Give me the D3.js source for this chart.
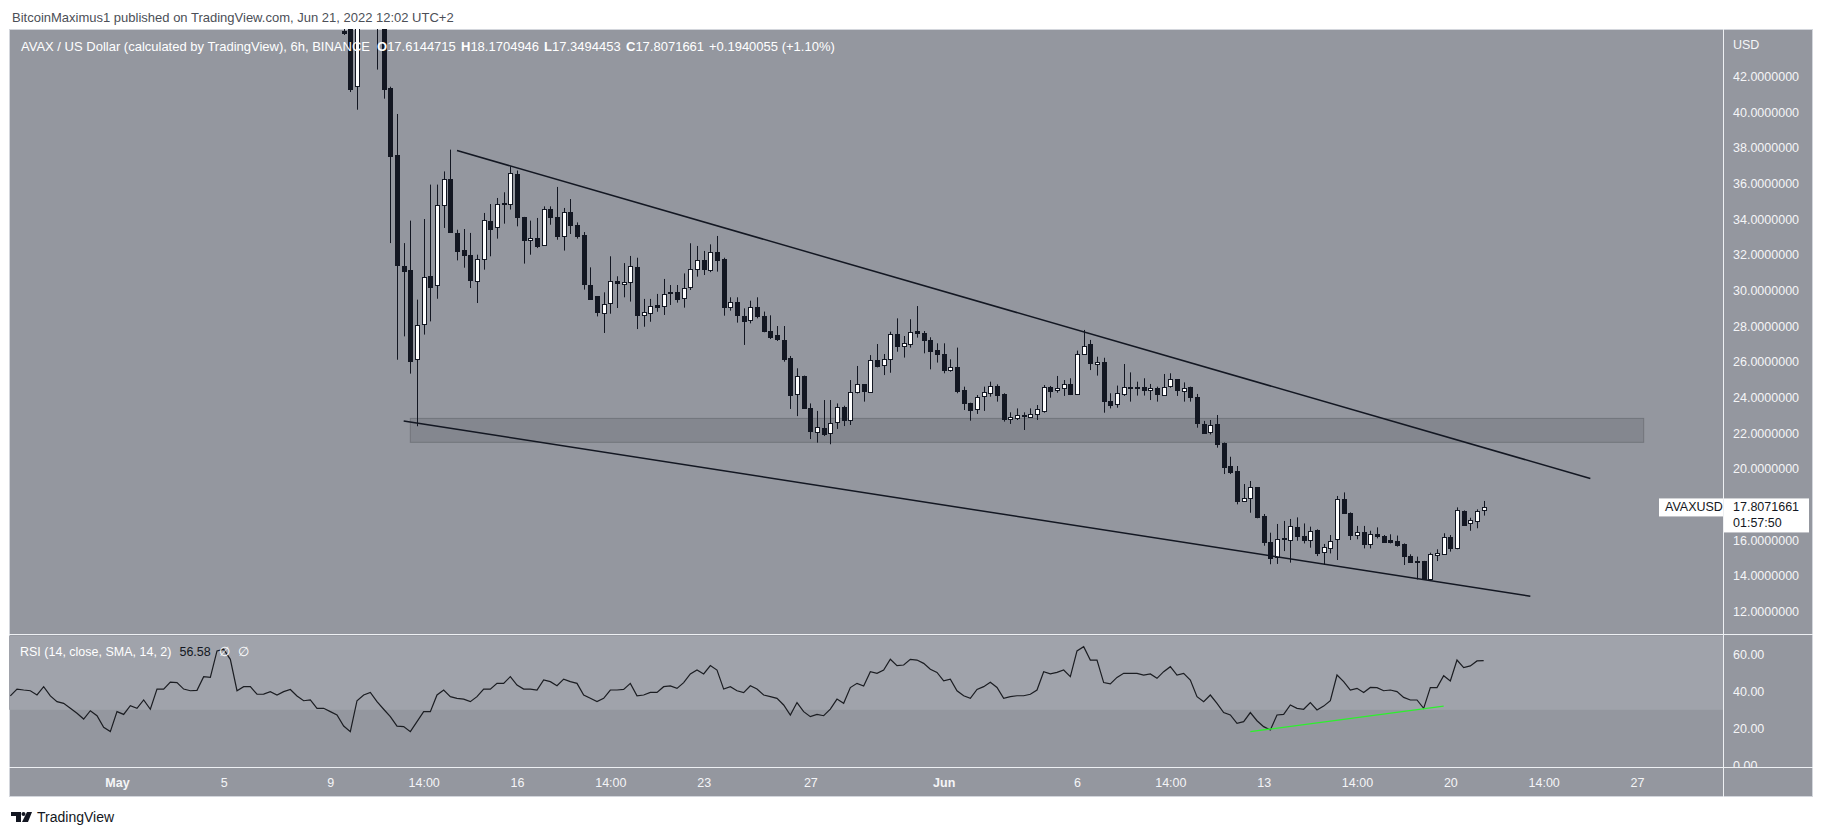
<!DOCTYPE html>
<html lang="en">
  <head>
    <meta charset="utf-8" />
    <title>AVAX / US Dollar, 6h</title>
    <style>
      body {
        margin: 0;
        background: #ffffff;
      }
      svg text {
        font-family: "Trebuchet MS", "Liberation Sans", Roboto, sans-serif;
      }
    </style>
  </head>

  <body>
    <div id="chart"></div>

    <script src="https://cdn.jsdelivr.net/npm/d3@7"></script>
    <script>
      // ---- data (6h bars, chart time UTC+2) ----
      const barMs = 6 * 3600 * 1000;
      const candleStart = Date.UTC(2022, 4, 9, 14); // first candle that reaches the price pane
      const rsiStart = Date.UTC(2022, 3, 27, 2); // first RSI point at the left edge

      const opens = [
        44.55, 46.8, 41.42, 46.2, 47.4, 46.9, 45.2, 41.32, 37.59, 31.33,
        31.14, 26.09, 28.09, 30.8, 30.26, 34.79, 36.23, 33.2, 32.26, 31.94,
        30.49, 31.74, 33.89, 33.51, 34.88, 34.82, 36.52, 34.09, 32.78, 32.92,
        32.54, 34.54, 34.09, 33.01, 34.37, 33.66, 33.07, 30.3, 29.65, 28.75,
        29.27, 30.49, 30.34, 30.43, 31.31, 28.58, 28.75, 29.16, 29.1, 29.87,
        29.87, 29.53, 30.15, 31.16, 31.66, 31.16, 32.15, 31.72, 29.03, 29.31,
        28.56, 28.28, 29.03, 28.54, 27.7, 27.48, 27.2, 26.17, 24.2, 25.18,
        23.36, 22.0, 22.24, 21.96, 22.58, 23.42, 22.71, 24.26, 24.71, 24.3,
        26.07, 25.76, 26.11, 27.51, 26.82, 27.01, 27.7, 27.57, 27.2, 26.63,
        26.39, 25.48, 25.7, 24.39, 23.65, 23.36, 24.02, 24.24, 24.62, 24.17,
        22.75, 22.79, 22.97, 22.9, 23.03, 23.22, 24.54, 24.36, 24.49, 24.71,
        24.15, 26.45, 26.95, 25.83, 25.94, 23.77, 23.59, 24.17, 24.54, 24.54,
        24.54, 24.36, 24.49, 24.15, 24.58, 24.99, 24.36, 24.54, 23.98, 22.49,
        22.02, 22.49, 21.44, 20.13, 19.85, 18.19, 18.32, 18.94, 17.35, 15.85,
        15.01, 16.07, 15.98, 16.73, 16.23, 16.02, 16.54, 15.33, 15.57, 16.02,
        18.26, 17.48, 16.3, 16.41, 15.74, 16.3, 16.23, 15.98, 15.92, 15.76,
        15.1, 14.8, 14.8, 13.79, 15.14, 15.18, 16.17, 15.55, 17.63, 16.92,
        17.05, 17.6144715
      ];
      const highs = [
        45.5, 47.2, 47.0, 48.0, 48.6, 47.3, 45.6, 41.4, 39.87, 32.63,
        33.89, 29.46, 33.98, 35.91, 35.91, 36.65, 37.87, 33.38, 33.42, 33.2,
        31.98, 34.32, 34.82, 35.16, 35.48, 36.94, 36.7, 34.1, 33.89, 34.04,
        34.69, 34.69, 35.78, 34.6, 35.1, 33.79, 33.25, 31.27, 29.65, 29.87,
        31.89, 30.77, 31.51, 31.91, 31.81, 29.5, 29.5, 29.78, 30.62, 30.28,
        30.28, 30.93, 32.62, 32.47, 32.19, 32.56, 33.03, 31.81, 29.59, 29.59,
        28.97, 29.4, 29.59, 28.79, 28.58, 27.98, 27.98, 26.3, 25.61, 25.2,
        23.64, 23.22, 23.83, 23.83, 23.64, 23.51, 24.95, 25.74, 24.72, 26.35,
        26.97, 26.41, 27.66, 28.41, 27.42, 28.36, 29.1, 27.7, 27.35, 27.01,
        27.01, 26.11, 26.77, 24.58, 23.68, 24.11, 24.58, 24.86, 24.71, 24.21,
        23.14, 23.36, 23.14, 23.36, 23.55, 24.67, 24.62, 25.18, 24.95, 25.05,
        26.6, 27.76, 27.2, 26.26, 26.2, 24.21, 24.64, 25.85, 25.38, 24.86,
        25.05, 24.73, 24.58, 25.29, 25.33, 25.0, 24.82, 24.58, 24.17, 22.66,
        22.71, 22.99, 21.45, 20.65, 20.13, 19.12, 19.29, 18.95, 17.44, 16.39,
        16.88, 17.05, 17.16, 17.25, 16.91, 16.73, 16.58, 15.76, 16.26, 18.45,
        18.65, 17.53, 16.77, 16.77, 16.5, 16.69, 16.26, 16.3, 16.23, 15.79,
        15.18, 15.05, 14.81, 15.27, 15.46, 16.36, 16.26, 17.81, 17.64, 17.23,
        17.7, 18.1704946
      ];
      const lows = [
        44.3, 41.1, 40.11, 45.3, 45.8, 42.36, 40.73, 32.63, 26.09, 27.4,
        25.31, 22.36, 27.5, 28.24, 29.51, 33.48, 33.2, 31.66, 31.25, 30.11,
        29.27, 31.14, 31.89, 32.88, 33.72, 34.51, 33.57, 31.48, 31.98, 32.35,
        32.5, 33.66, 32.82, 32.21, 33.14, 32.88, 30.02, 29.5, 28.52, 27.59,
        28.67, 28.99, 29.59, 29.35, 27.81, 27.94, 28.22, 28.78, 28.6, 29.16,
        29.29, 29.01, 30.0, 30.75, 30.84, 31.0, 31.03, 28.56, 28.84, 28.17,
        26.92, 28.13, 28.41, 27.63, 27.25, 27.14, 25.98, 23.33, 22.93, 23.36,
        21.64, 21.44, 21.81, 21.35, 22.21, 22.37, 22.43, 24.2, 23.74, 24.28,
        25.66, 25.23, 25.36, 26.54, 26.21, 26.77, 27.33, 26.45, 25.55, 25.93,
        25.33, 25.42, 24.21, 23.27, 22.67, 23.05, 23.22, 24.02, 23.74, 22.62,
        22.49, 22.71, 22.15, 22.88, 22.71, 23.12, 23.96, 24.24, 24.06, 24.11,
        24.11, 26.4, 25.51, 25.2, 23.12, 23.36, 23.4, 24.06, 23.74, 24.08,
        24.08, 23.83, 23.74, 24.1, 24.52, 24.06, 23.74, 23.74, 22.28, 21.96,
        21.9, 21.16, 19.68, 19.68, 17.98, 18.17, 17.51, 17.2, 15.66, 14.62,
        14.64, 15.36, 14.71, 15.94, 15.79, 15.55, 15.08, 14.58, 15.23, 14.86,
        17.44, 15.98, 16.02, 15.51, 15.51, 16.07, 15.85, 15.79, 15.61, 14.58,
        14.71, 13.77, 13.77, 13.68, 14.8, 15.15, 15.33, 15.46, 16.82, 16.5,
        16.64, 17.3494453
      ];
      const closes = [
        44.41, 41.23, 46.2, 47.4, 46.9, 45.2, 41.29, 37.53, 31.42, 31.05,
        26.04, 28.02, 30.71, 30.21, 34.75, 36.23, 33.23, 32.17, 31.98, 30.52,
        31.74, 33.91, 33.44, 34.82, 34.82, 36.56, 34.13, 32.78, 32.92, 32.49,
        34.54, 34.09, 33.05, 34.37, 33.66, 33.07, 30.3, 29.51, 28.75, 29.23,
        30.49, 30.39, 30.43, 31.35, 28.64, 28.75, 29.12, 29.07, 29.76, 29.8,
        29.5, 30.09, 31.16, 31.66, 31.16, 32.15, 31.72, 29.03, 29.31, 28.56,
        28.28, 29.03, 28.5, 27.72, 27.38, 27.23, 26.13, 24.11, 25.2, 23.4,
        22.06, 22.3, 21.92, 22.52, 23.42, 22.71, 24.26, 24.71, 24.3, 26.07,
        25.76, 26.11, 27.51, 26.82, 27.01, 27.66, 27.57, 27.16, 26.6, 26.39,
        25.48, 25.66, 24.36, 23.65, 23.27, 24.02, 24.26, 24.62, 24.11, 22.75,
        22.86, 22.97, 22.92, 23.05, 23.31, 24.54, 24.3, 24.49, 24.71, 24.15,
        26.39, 26.88, 25.89, 25.94, 23.74, 23.55, 24.21, 24.54, 24.47, 24.47,
        24.36, 24.49, 24.15, 24.58, 24.99, 24.36, 24.52, 23.96, 22.52, 22.0,
        22.43, 21.35, 20.1, 19.81, 18.19, 18.36, 18.94, 17.23, 15.89, 14.95,
        16.02, 16.02, 16.79, 16.23, 16.02, 16.5, 15.27, 15.61, 15.94, 18.26,
        17.48, 16.23, 16.45, 15.74, 16.3, 16.2, 15.89, 15.89, 15.7, 15.1,
        14.77, 14.75, 13.79, 15.18, 15.23, 16.13, 15.55, 17.66, 16.86, 17.1,
        17.63, 17.8071661
      ];

      const rsiValues = [
        37.5, 41.2, 40.7, 40.3, 38.0, 42.5, 37.5, 34.4, 33.5, 30.8,
        28.1, 25.0, 29.5, 26.8, 20.5, 18.2, 29.0, 27.5, 32.2, 30.8,
        35.3, 30.3, 41.2, 41.2, 45.0, 44.7, 41.2, 40.3, 40.5, 47.9,
        47.5, 61.8, 62.7, 57.3, 40.3, 42.5, 42.5, 38.4, 38.5, 39.8,
        38.0, 39.8, 41.0, 37.5, 34.9, 35.3, 30.8, 30.8, 29.0, 27.2,
        21.2, 18.2, 34.9, 38.0, 39.4, 34.4, 30.3, 26.3, 21.2, 20.9,
        18.2, 23.6, 29.0, 29.0, 38.0, 40.7, 37.1, 36.2, 35.8, 34.4,
        37.1, 41.2, 41.2, 44.3, 44.3, 47.9, 43.4, 41.2, 41.2, 40.7,
        46.1, 45.2, 43.0, 46.6, 45.2, 44.3, 38.0, 36.2, 34.4, 36.2,
        40.7, 40.7, 41.0, 44.3, 37.6, 38.0, 39.4, 39.4, 42.5, 42.9,
        41.6, 44.7, 49.4, 51.5, 49.4, 53.9, 51.5, 41.2, 42.5, 40.3,
        39.3, 43.0, 41.2, 38.0, 37.1, 36.2, 32.6, 27.2, 33.9, 29.0,
        26.3, 27.5, 26.8, 30.4, 35.8, 33.5, 42.0, 44.3, 42.9, 50.6,
        49.7, 51.5, 57.3, 53.9, 54.2, 57.3, 56.9, 55.1, 51.9, 50.2,
        45.7, 46.6, 40.3, 37.6, 36.2, 41.0, 42.5, 44.9, 42.1, 36.2,
        37.1, 37.6, 37.6, 38.4, 40.7, 50.6, 49.4, 50.2, 51.5, 47.9,
        61.8, 64.1, 56.9, 56.9, 44.7, 44.0, 47.5, 49.7, 49.7, 49.7,
        48.8, 49.4, 47.0, 50.6, 53.3, 48.8, 49.7, 46.1, 37.1, 34.4,
        38.0, 33.5, 28.5, 27.2, 22.7, 23.6, 28.5, 24.1, 20.9, 19.1,
        27.2, 27.5, 32.6, 30.8, 30.3, 33.9, 29.9, 32.0, 34.9, 48.8,
        45.2, 40.7, 41.6, 39.3, 42.1, 42.0, 40.3, 40.7, 39.8, 36.7,
        35.3, 35.3, 30.8, 42.0, 42.0, 48.4, 45.6, 56.9, 52.8, 53.7,
        56.4, 56.58
      ];

      // drawings on the chart
      const upperTrend = [
        { t: Date.UTC(2022, 4, 13, 20), p: 37.82 },
        { t: Date.UTC(2022, 5, 25, 8), p: 19.43 }
      ];
      const lowerTrend = [
        { t: Date.UTC(2022, 4, 11, 20), p: 22.65 },
        { t: Date.UTC(2022, 5, 23, 2), p: 12.83 }
      ];
      const zoneTimes = [Date.UTC(2022, 4, 12, 2), Date.UTC(2022, 5, 27, 8)];
      const zonePrices = [21.46, 22.8];
      const rsiDivergence = [
        { t: Date.UTC(2022, 5, 12, 14), v: 18.2 },
        { t: Date.UTC(2022, 5, 19, 20), v: 32.0 }
      ];

      // axes
      const priceTicks = [12, 14, 16, 18, 20, 22, 24, 26, 28, 30, 32, 34, 36, 38, 40, 42];
      const rsiTicks = [0, 20, 40, 60];
      const timeTicks = [
        Date.UTC(2022, 4, 1, 2), Date.UTC(2022, 4, 5, 2), Date.UTC(2022, 4, 9, 2),
        Date.UTC(2022, 4, 12, 14), Date.UTC(2022, 4, 16, 2), Date.UTC(2022, 4, 19, 14),
        Date.UTC(2022, 4, 23, 2), Date.UTC(2022, 4, 27, 2), Date.UTC(2022, 5, 1, 2),
        Date.UTC(2022, 5, 6, 2), Date.UTC(2022, 5, 9, 14), Date.UTC(2022, 5, 13, 2),
        Date.UTC(2022, 5, 16, 14), Date.UTC(2022, 5, 20, 2), Date.UTC(2022, 5, 23, 14),
        Date.UTC(2022, 5, 27, 2)
      ];
      const timeTickLabels = [
        "May", "5", "9", "14:00", "16", "14:00", "23", "27", "Jun",
        "6", "14:00", "13", "14:00", "20", "14:00", "27"
      ];

      const lastPrice = closes[closes.length - 1];
      const countdown = "01:57:50";

      // ---- layout ----
      const width = 1824, height = 836;
      const frameLeft = 9, plotRight = 1723, frameRight = 1813;
      const frameTop = 29, priceBottom = 634, rsiBottom = 767, frameBottom = 797;

      const bg = "#94979f";
      const ink = "#131722";
      const axisText = "#f4f5f7";
      const sepColor = "#eef0f3";

      const x = d3.scaleUtc()
        .domain([Date.UTC(2022, 4, 1, 2), Date.UTC(2022, 5, 27, 2)])
        .range([117, 1637]);
      const y = d3.scaleLinear().domain([12, 42]).range([611, 76]);
      const yRsi = d3.scaleLinear().domain([0, 60]).range([765.3, 654.3]);

      const candles = opens.map((o, i) => ({
        t: candleStart + i * barMs,
        o: o,
        h: highs[i],
        l: lows[i],
        c: closes[i]
      }));
      const rsi = rsiValues.map((v, i) => ({ t: rsiStart + i * barMs, v: v }));

      const svg = d3.select("#chart")
        .append("svg")
        .attr("width", width)
        .attr("height", height)
        .style("display", "block");

      const defs = svg.append("defs");
      defs.append("clipPath").attr("id", "clip-price")
        .append("rect")
        .attr("x", frameLeft).attr("y", frameTop)
        .attr("width", plotRight - frameLeft).attr("height", priceBottom - frameTop);
      defs.append("clipPath").attr("id", "clip-rsi")
        .append("rect")
        .attr("x", frameLeft).attr("y", priceBottom)
        .attr("width", plotRight - frameLeft).attr("height", rsiBottom - priceBottom);
      defs.append("clipPath").attr("id", "clip-rsi-axis")
        .append("rect")
        .attr("x", plotRight).attr("y", priceBottom)
        .attr("width", frameRight - plotRight).attr("height", rsiBottom - priceBottom);

      // publisher line above the chart
      svg.append("text")
        .attr("x", 12)
        .attr("y", 17)
        .attr("dominant-baseline", "central")
        .attr("fill", "#4c4f57")
        .style("font-size", "13px")
        .text("BitcoinMaximus1 published on TradingView.com, Jun 21, 2022 12:02 UTC+2");

      // chart frame
      svg.append("rect")
        .attr("x", frameLeft + 0.5)
        .attr("y", frameTop + 0.5)
        .attr("width", frameRight - frameLeft - 1)
        .attr("height", frameBottom - frameTop - 1)
        .attr("fill", bg)
        .attr("stroke", "#d3d6dc");

      // RSI 30-70 band
      svg.append("rect")
        .attr("clip-path", "url(#clip-rsi)")
        .attr("x", frameLeft)
        .attr("y", yRsi(70))
        .attr("width", plotRight - frameLeft)
        .attr("height", yRsi(30) - yRsi(70))
        .attr("fill", "#a0a3ab");

      // support zone
      svg.append("rect")
        .attr("clip-path", "url(#clip-price)")
        .attr("x", x(zoneTimes[0]))
        .attr("y", y(zonePrices[1]))
        .attr("width", x(zoneTimes[1]) - x(zoneTimes[0]))
        .attr("height", y(zonePrices[0]) - y(zonePrices[1]))
        .attr("fill", "#84878f")
        .attr("stroke", "#72757c");

      // candles
      const candleG = svg.append("g").attr("clip-path", "url(#clip-price)");
      const cx = (d) => Math.round(x(d.t)) + 0.5;

      candleG.selectAll("line.wick")
        .data(candles)
        .enter()
        .append("line")
        .attr("class", "wick")
        .attr("x1", cx)
        .attr("x2", cx)
        .attr("y1", (d) => y(d.h))
        .attr("y2", (d) => y(d.l))
        .attr("stroke", ink)
        .attr("stroke-width", 1);

      candleG.selectAll("rect.body")
        .data(candles)
        .enter()
        .append("rect")
        .attr("class", "body")
        .attr("x", (d) => cx(d) - 2)
        .attr("y", (d) => Math.round(y(Math.max(d.o, d.c))) + 0.5)
        .attr("width", 4)
        .attr("height", (d) => Math.max(1, Math.round(Math.abs(y(d.o) - y(d.c)))))
        .attr("fill", (d) => (d.c >= d.o ? "#ffffff" : ink))
        .attr("stroke", ink)
        .attr("stroke-width", 1);

      // trend lines of the wedge
      const trendLine = d3.line().x((d) => x(d.t)).y((d) => y(d.p));
      [upperTrend, lowerTrend].forEach((pts) => {
        svg.append("path")
          .attr("clip-path", "url(#clip-price)")
          .attr("d", trendLine(pts))
          .attr("fill", "none")
          .attr("stroke", ink)
          .attr("stroke-width", 1.5);
      });

      // RSI line
      svg.append("path")
        .attr("clip-path", "url(#clip-rsi)")
        .attr("d", d3.line().x((d) => x(d.t)).y((d) => yRsi(d.v))(rsi))
        .attr("fill", "none")
        .attr("stroke", "#1b1d22")
        .attr("stroke-width", 1.2);

      // bullish divergence line
      svg.append("path")
        .attr("clip-path", "url(#clip-rsi)")
        .attr("d", d3.line().x((d) => x(d.t)).y((d) => yRsi(d.v))(rsiDivergence))
        .attr("fill", "none")
        .attr("stroke", "#2df02d")
        .attr("stroke-width", 1.3);

      // pane separators
      [priceBottom, rsiBottom].forEach((yy) => {
        svg.append("line")
          .attr("x1", frameLeft).attr("x2", frameRight)
          .attr("y1", yy + 0.5).attr("y2", yy + 0.5)
          .attr("stroke", sepColor);
      });
      svg.append("line")
        .attr("x1", plotRight + 0.5).attr("x2", plotRight + 0.5)
        .attr("y1", frameTop).attr("y2", frameBottom)
        .attr("stroke", sepColor);

      // price axis
      const priceAxis = svg.append("g")
        .attr("transform", `translate(${plotRight},0)`)
        .call(d3.axisRight(y).tickValues(priceTicks).tickSize(0).tickPadding(10)
          .tickFormat((d) => d.toFixed(7)));
      priceAxis.select(".domain").remove();
      priceAxis.selectAll("text")
        .attr("fill", axisText)
        .attr("dy", "0.35em")
        .style("font-size", "12.5px");

      svg.append("text")
        .attr("x", plotRight + 10)
        .attr("y", 45)
        .attr("dominant-baseline", "central")
        .attr("fill", axisText)
        .style("font-size", "12.5px")
        .text("USD");

      // RSI axis (clipped to the RSI pane, so 0.00 is cut like in the app)
      const rsiAxis = svg.append("g")
        .attr("clip-path", "url(#clip-rsi-axis)")
        .append("g")
        .attr("transform", `translate(${plotRight},0)`)
        .call(d3.axisRight(yRsi).tickValues(rsiTicks).tickSize(0).tickPadding(10)
          .tickFormat(d3.format(".2f")));
      rsiAxis.select(".domain").remove();
      rsiAxis.selectAll("text")
        .attr("fill", axisText)
        .attr("dy", "0.35em")
        .style("font-size", "12.5px");

      // time axis
      const timeAxis = svg.append("g")
        .attr("transform", `translate(0,${rsiBottom})`)
        .call(d3.axisBottom(x).tickValues(timeTicks).tickSize(0)
          .tickFormat((d, i) => timeTickLabels[i]));
      timeAxis.select(".domain").remove();
      timeAxis.selectAll("text")
        .attr("y", 16)
        .attr("dy", "0.35em")
        .attr("fill", axisText)
        .style("font-size", "12.5px")
        .style("font-weight", (d, i) => (timeTickLabels[i] === "May" || timeTickLabels[i] === "Jun" ? "bold" : "normal"));

      // legend line of the main series
      svg.append("text")
        .attr("x", 21)
        .attr("y", 46)
        .attr("dominant-baseline", "central")
        .attr("fill", "#ffffff")
        .style("font-size", "13px")
        .text("AVAX / US Dollar (calculated by TradingView), 6h, BINANCE");

      const ohlc = [
        { k: "O", v: opens[opens.length - 1].toFixed(7), x: 377 },
        { k: "H", v: highs[highs.length - 1].toFixed(7), x: 461 },
        { k: "L", v: lows[lows.length - 1].toFixed(7), x: 544 },
        { k: "C", v: lastPrice.toFixed(7), x: 626 }
      ];
      const ohlcText = svg.selectAll("text.ohlc")
        .data(ohlc)
        .enter()
        .append("text")
        .attr("class", "ohlc")
        .attr("x", (d) => d.x)
        .attr("y", 46)
        .attr("dominant-baseline", "central")
        .attr("fill", "#ffffff")
        .style("font-size", "13px");
      ohlcText.append("tspan").style("font-weight", "bold").text((d) => d.k);
      ohlcText.append("tspan").text((d) => d.v);

      svg.append("text")
        .attr("x", 709)
        .attr("y", 46)
        .attr("dominant-baseline", "central")
        .attr("fill", "#ffffff")
        .style("font-size", "13px")
        .text("+0.1940055 (+1.10%)");

      // RSI legend
      const rsiLegend = svg.append("text")
        .attr("x", 20)
        .attr("y", 652)
        .attr("dominant-baseline", "central")
        .style("font-size", "12.5px");
      rsiLegend.append("tspan").attr("fill", "#ffffff").text("RSI (14, close, SMA, 14, 2)");
      rsiLegend.append("tspan").attr("fill", ink).attr("dx", 8)
        .text(rsiValues[rsiValues.length - 1].toFixed(2));
      rsiLegend.append("tspan").attr("fill", "#ffffff").attr("dx", 8).text("∅");
      rsiLegend.append("tspan").attr("fill", "#ffffff").attr("dx", 8).text("∅");

      // last price labels
      const yLast = y(lastPrice);
      svg.append("rect")
        .attr("x", 1659).attr("y", yLast - 9)
        .attr("width", plotRight - 1659).attr("height", 18)
        .attr("fill", "#ffffff");
      svg.append("text")
        .attr("x", 1665).attr("y", yLast)
        .attr("dominant-baseline", "central")
        .attr("fill", ink)
        .style("font-size", "12.5px")
        .text("AVAXUSD");
      svg.append("rect")
        .attr("x", plotRight + 1).attr("y", yLast - 9)
        .attr("width", 85).attr("height", 34)
        .attr("fill", "#ffffff");
      svg.append("text")
        .attr("x", plotRight + 10).attr("y", yLast)
        .attr("dominant-baseline", "central")
        .attr("fill", ink)
        .style("font-size", "12.5px")
        .text(lastPrice.toFixed(7));
      svg.append("text")
        .attr("x", plotRight + 10).attr("y", yLast + 16)
        .attr("dominant-baseline", "central")
        .attr("fill", ink)
        .style("font-size", "12.5px")
        .text(countdown);

      // TradingView logo at the bottom
      const logo = svg.append("g").attr("fill", ink);
      logo.append("path").attr("d", "M11,812 H21 V822 H16 V816 H11 Z");
      logo.append("circle").attr("cx", 23.5).attr("cy", 814).attr("r", 2);
      logo.append("path").attr("d", "M27,812 H32 L28,822 H22 Z");
      svg.append("text")
        .attr("x", 37)
        .attr("y", 817)
        .attr("dominant-baseline", "central")
        .attr("fill", ink)
        .style("font-size", "14px")
        .text("TradingView");
    </script>
  </body>
</html>
